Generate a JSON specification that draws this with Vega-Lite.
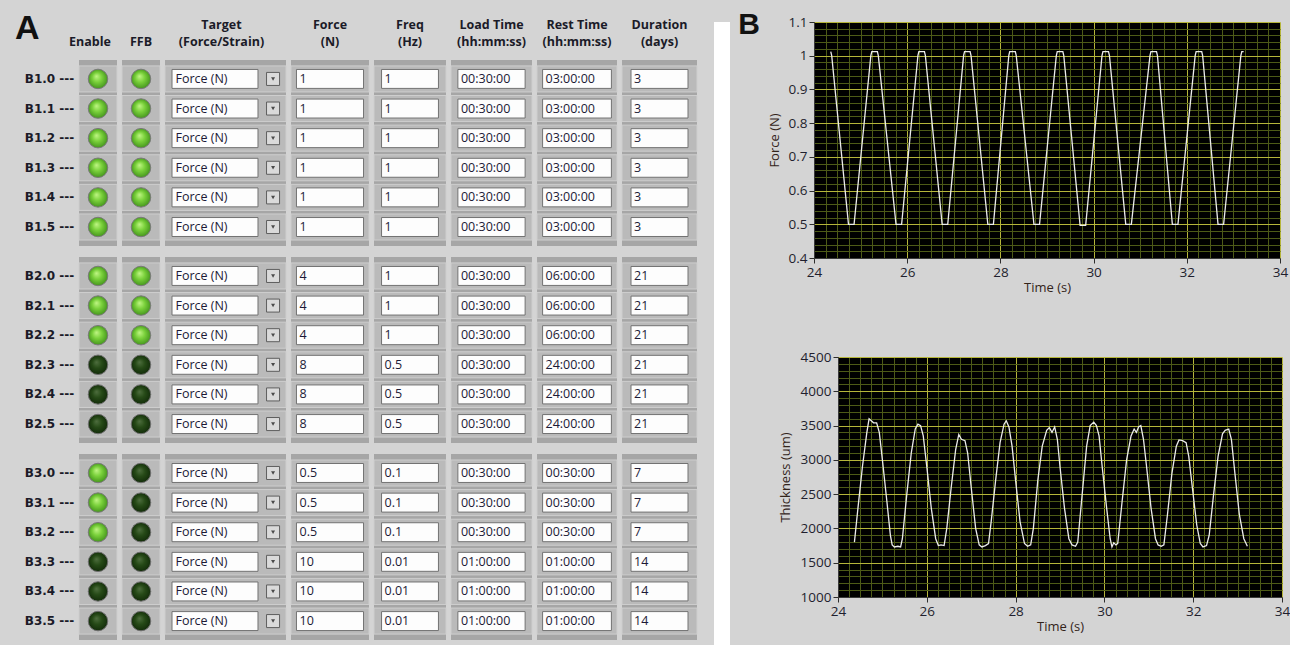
{
"$schema": "https://vega.github.io/schema/vega-lite/v6.json",
"background": "#d4d4d4",
"padding": {"left": 15, "top": 10, "right": 0, "bottom": 0},
"spacing": 16,
"config": {
  "view": {"stroke": null}
},
"datasets": {
  "rows": [
    {"ch":"B1.0","grp":"1","slot":0,"enable":"on","ffb":"on","target":"Force (N)","force":"1","freq":"1","load":"00:30:00","rest":"03:00:00","dur":"3"},
    {"ch":"B1.1","grp":"1","slot":1,"enable":"on","ffb":"on","target":"Force (N)","force":"1","freq":"1","load":"00:30:00","rest":"03:00:00","dur":"3"},
    {"ch":"B1.2","grp":"1","slot":2,"enable":"on","ffb":"on","target":"Force (N)","force":"1","freq":"1","load":"00:30:00","rest":"03:00:00","dur":"3"},
    {"ch":"B1.3","grp":"1","slot":3,"enable":"on","ffb":"on","target":"Force (N)","force":"1","freq":"1","load":"00:30:00","rest":"03:00:00","dur":"3"},
    {"ch":"B1.4","grp":"1","slot":4,"enable":"on","ffb":"on","target":"Force (N)","force":"1","freq":"1","load":"00:30:00","rest":"03:00:00","dur":"3"},
    {"ch":"B1.5","grp":"1","slot":5,"enable":"on","ffb":"on","target":"Force (N)","force":"1","freq":"1","load":"00:30:00","rest":"03:00:00","dur":"3"},
    {"ch":"B2.0","grp":"2","slot":0,"enable":"on","ffb":"on","target":"Force (N)","force":"4","freq":"1","load":"00:30:00","rest":"06:00:00","dur":"21"},
    {"ch":"B2.1","grp":"2","slot":1,"enable":"on","ffb":"on","target":"Force (N)","force":"4","freq":"1","load":"00:30:00","rest":"06:00:00","dur":"21"},
    {"ch":"B2.2","grp":"2","slot":2,"enable":"on","ffb":"on","target":"Force (N)","force":"4","freq":"1","load":"00:30:00","rest":"06:00:00","dur":"21"},
    {"ch":"B2.3","grp":"2","slot":3,"enable":"off","ffb":"off","target":"Force (N)","force":"8","freq":"0.5","load":"00:30:00","rest":"24:00:00","dur":"21"},
    {"ch":"B2.4","grp":"2","slot":4,"enable":"off","ffb":"off","target":"Force (N)","force":"8","freq":"0.5","load":"00:30:00","rest":"24:00:00","dur":"21"},
    {"ch":"B2.5","grp":"2","slot":5,"enable":"off","ffb":"off","target":"Force (N)","force":"8","freq":"0.5","load":"00:30:00","rest":"24:00:00","dur":"21"},
    {"ch":"B3.0","grp":"3","slot":0,"enable":"on","ffb":"off","target":"Force (N)","force":"0.5","freq":"0.1","load":"00:30:00","rest":"00:30:00","dur":"7"},
    {"ch":"B3.1","grp":"3","slot":1,"enable":"on","ffb":"off","target":"Force (N)","force":"0.5","freq":"0.1","load":"00:30:00","rest":"00:30:00","dur":"7"},
    {"ch":"B3.2","grp":"3","slot":2,"enable":"on","ffb":"off","target":"Force (N)","force":"0.5","freq":"0.1","load":"00:30:00","rest":"00:30:00","dur":"7"},
    {"ch":"B3.3","grp":"3","slot":3,"enable":"off","ffb":"off","target":"Force (N)","force":"10","freq":"0.01","load":"01:00:00","rest":"01:00:00","dur":"14"},
    {"ch":"B3.4","grp":"3","slot":4,"enable":"off","ffb":"off","target":"Force (N)","force":"10","freq":"0.01","load":"01:00:00","rest":"01:00:00","dur":"14"},
    {"ch":"B3.5","grp":"3","slot":5,"enable":"off","ffb":"off","target":"Force (N)","force":"10","freq":"0.01","load":"01:00:00","rest":"01:00:00","dur":"14"}
  ],
  "force": [
    {"t":24.36,"f":1.012},{"t":24.38,"f":1.0},{"t":24.74,"f":0.5},{"t":24.86,"f":0.5},
    {"t":25.22,"f":1.0},{"t":25.24,"f":1.012},{"t":25.36,"f":1.012},{"t":25.38,"f":1.0},
    {"t":25.76,"f":0.5},{"t":25.88,"f":0.5},
    {"t":26.23,"f":1.0},{"t":26.25,"f":1.012},{"t":26.37,"f":1.012},{"t":26.39,"f":1.0},
    {"t":26.75,"f":0.5},{"t":26.87,"f":0.5},
    {"t":27.21,"f":1.0},{"t":27.23,"f":1.012},{"t":27.35,"f":1.012},{"t":27.37,"f":1.0},
    {"t":27.73,"f":0.5},{"t":27.85,"f":0.5},
    {"t":28.18,"f":1.0},{"t":28.2,"f":1.012},{"t":28.32,"f":1.012},{"t":28.34,"f":1.0},
    {"t":28.72,"f":0.5},{"t":28.84,"f":0.5},
    {"t":29.2,"f":1.0},{"t":29.22,"f":1.012},{"t":29.34,"f":1.012},{"t":29.36,"f":1.0},
    {"t":29.71,"f":0.497},{"t":29.83,"f":0.497},
    {"t":30.18,"f":1.0},{"t":30.2,"f":1.012},{"t":30.32,"f":1.012},{"t":30.34,"f":1.0},
    {"t":30.69,"f":0.5},{"t":30.81,"f":0.5},
    {"t":31.21,"f":1.0},{"t":31.23,"f":1.012},{"t":31.35,"f":1.012},{"t":31.37,"f":1.0},
    {"t":31.69,"f":0.5},{"t":31.81,"f":0.5},
    {"t":32.18,"f":1.0},{"t":32.2,"f":1.012},{"t":32.32,"f":1.012},{"t":32.34,"f":1.0},
    {"t":32.67,"f":0.5},{"t":32.79,"f":0.5},
    {"t":33.16,"f":1.0},{"t":33.18,"f":1.012},{"t":33.22,"f":1.012}
  ],
  "thick": [
    {"t":24.37,"th":1800},{"t":24.45,"th":2300},{"t":24.55,"th":2900},{"t":24.65,"th":3400},{"t":24.7,"th":3600},{"t":24.75,"th":3570},{"t":24.8,"th":3540},{"t":24.87,"th":3540},{"t":24.93,"th":3400},{"t":25.0,"th":3000},{"t":25.1,"th":2400},{"t":25.18,"th":1900},{"t":25.22,"th":1760},{"t":25.27,"th":1730},{"t":25.35,"th":1740},{"t":25.41,"th":1730},
    {"t":25.45,"th":1850},{"t":25.55,"th":2500},{"t":25.65,"th":3100},{"t":25.74,"th":3450},{"t":25.8,"th":3520},{"t":25.86,"th":3500},{"t":25.92,"th":3350},{"t":26.0,"th":2900},{"t":26.1,"th":2300},{"t":26.2,"th":1850},{"t":26.26,"th":1750},{"t":26.32,"th":1760},{"t":26.39,"th":1750},
    {"t":26.45,"th":2000},{"t":26.55,"th":2600},{"t":26.65,"th":3150},{"t":26.72,"th":3370},{"t":26.78,"th":3300},{"t":26.86,"th":3280},{"t":26.92,"th":3100},{"t":27.0,"th":2600},{"t":27.1,"th":2000},{"t":27.18,"th":1760},{"t":27.24,"th":1730},{"t":27.32,"th":1750},{"t":27.39,"th":1780},
    {"t":27.45,"th":2100},{"t":27.55,"th":2700},{"t":27.65,"th":3250},{"t":27.74,"th":3520},{"t":27.79,"th":3570},{"t":27.85,"th":3480},{"t":27.92,"th":3200},{"t":28.0,"th":2700},{"t":28.1,"th":2100},{"t":28.2,"th":1780},{"t":28.27,"th":1740},{"t":28.34,"th":1760},
    {"t":28.4,"th":2000},{"t":28.5,"th":2700},{"t":28.6,"th":3200},{"t":28.7,"th":3430},{"t":28.76,"th":3470},{"t":28.82,"th":3400},{"t":28.88,"th":3480},{"t":28.94,"th":3300},{"t":29.0,"th":2900},{"t":29.1,"th":2300},{"t":29.2,"th":1850},{"t":29.27,"th":1760},{"t":29.35,"th":1740},
    {"t":29.4,"th":1800},{"t":29.5,"th":2500},{"t":29.6,"th":3200},{"t":29.68,"th":3500},{"t":29.76,"th":3550},{"t":29.82,"th":3500},{"t":29.88,"th":3350},{"t":29.95,"th":2900},{"t":30.05,"th":2300},{"t":30.13,"th":1850},{"t":30.17,"th":1730},{"t":30.21,"th":1790},{"t":30.26,"th":1760},{"t":30.3,"th":1780},
    {"t":30.4,"th":2400},{"t":30.5,"th":3000},{"t":30.6,"th":3350},{"t":30.67,"th":3450},{"t":30.72,"th":3400},{"t":30.77,"th":3480},{"t":30.82,"th":3500},{"t":30.88,"th":3300},{"t":30.95,"th":2900},{"t":31.05,"th":2300},{"t":31.15,"th":1850},{"t":31.21,"th":1760},{"t":31.28,"th":1740},{"t":31.34,"th":1760},
    {"t":31.42,"th":2200},{"t":31.52,"th":2800},{"t":31.62,"th":3200},{"t":31.68,"th":3290},{"t":31.76,"th":3280},{"t":31.84,"th":3250},{"t":31.9,"th":3050},{"t":31.98,"th":2600},{"t":32.08,"th":2050},{"t":32.16,"th":1780},{"t":32.22,"th":1730},{"t":32.3,"th":1750},
    {"t":32.36,"th":1900},{"t":32.46,"th":2500},{"t":32.56,"th":3050},{"t":32.66,"th":3380},{"t":32.72,"th":3430},{"t":32.8,"th":3450},{"t":32.86,"th":3300},{"t":32.94,"th":2800},{"t":33.04,"th":2200},{"t":33.14,"th":1850},{"t":33.22,"th":1740}
  ]
},
"hconcat": [
  {
    "spacing": 9,
    "vconcat": [
      {
        "spacing": 5,
        "bounds": "flush",
        "hconcat": [
          {"width": 59, "height": 27, "data": {"values": [{"h": "A"}]},
           "mark": {"type": "text", "align": "left", "baseline": "bottom", "font": "Liberation Sans", "fontSize": 34, "fontWeight": "bold", "color": "#111111", "dy": -3},
           "encoding": {"text": {"field": "h"},
                        "x": {"datum": 0, "type": "quantitative", "scale": {"domain": [0, 1]}, "axis": null},
                        "y": {"datum": 0, "type": "quantitative", "scale": {"domain": [0, 1]}, "axis": null}}},
          {"width": 38, "height": 27, "data": {"values": [{"h": "Enable"}]},
           "mark": {"type": "text", "baseline": "bottom", "font": "Open Sans", "fontSize": 12.5, "fontWeight": "bold", "color": "#1b1b28", "dx": -8},
           "encoding": {"text": {"field": "h"}, "y": {"datum": 0, "type": "quantitative", "scale": {"domain": [0, 1]}, "axis": null}}},
          {"width": 38, "height": 27, "data": {"values": [{"h": "FFB"}]},
           "mark": {"type": "text", "baseline": "bottom", "font": "Open Sans", "fontSize": 12.5, "fontWeight": "bold", "color": "#1b1b28"},
           "encoding": {"text": {"field": "h"}, "y": {"datum": 0, "type": "quantitative", "scale": {"domain": [0, 1]}, "axis": null}}},
          {"width": 121, "height": 27, "data": {"values": [{"h": ["Target", "(Force/Strain)"]}]},
           "mark": {"type": "text", "baseline": "top", "font": "Open Sans", "fontSize": 12.5, "fontWeight": "bold", "color": "#1b1b28", "lineHeight": 17, "dx": -4, "dy": -3},
           "encoding": {"text": {"field": "h"}, "y": {"datum": 1, "type": "quantitative", "scale": {"domain": [0, 1]}, "axis": null}}},
          {"width": 78, "height": 27, "data": {"values": [{"h": ["Force", "(N)"]}]},
           "mark": {"type": "text", "baseline": "top", "font": "Open Sans", "fontSize": 12.5, "fontWeight": "bold", "color": "#1b1b28", "lineHeight": 17, "dy": -3},
           "encoding": {"text": {"field": "h"}, "y": {"datum": 1, "type": "quantitative", "scale": {"domain": [0, 1]}, "axis": null}}},
          {"width": 72, "height": 27, "data": {"values": [{"h": ["Freq", "(Hz)"]}]},
           "mark": {"type": "text", "baseline": "top", "font": "Open Sans", "fontSize": 12.5, "fontWeight": "bold", "color": "#1b1b28", "lineHeight": 17, "dy": -3},
           "encoding": {"text": {"field": "h"}, "y": {"datum": 1, "type": "quantitative", "scale": {"domain": [0, 1]}, "axis": null}}},
          {"width": 81, "height": 27, "data": {"values": [{"h": ["Load Time", "(hh:mm:ss)"]}]},
           "mark": {"type": "text", "baseline": "top", "font": "Open Sans", "fontSize": 12.5, "fontWeight": "bold", "color": "#1b1b28", "lineHeight": 17, "dy": -3},
           "encoding": {"text": {"field": "h"}, "y": {"datum": 1, "type": "quantitative", "scale": {"domain": [0, 1]}, "axis": null}}},
          {"width": 80, "height": 27, "data": {"values": [{"h": ["Rest Time", "(hh:mm:ss)"]}]},
           "mark": {"type": "text", "baseline": "top", "font": "Open Sans", "fontSize": 12.5, "fontWeight": "bold", "color": "#1b1b28", "lineHeight": 17, "dy": -3},
           "encoding": {"text": {"field": "h"}, "y": {"datum": 1, "type": "quantitative", "scale": {"domain": [0, 1]}, "axis": null}}},
          {"width": 75, "height": 27, "data": {"values": [{"h": ["Duration", "(days)"]}]},
           "mark": {"type": "text", "baseline": "top", "font": "Open Sans", "fontSize": 12.5, "fontWeight": "bold", "color": "#1b1b28", "lineHeight": 17, "dy": -3},
           "encoding": {"text": {"field": "h"}, "y": {"datum": 1, "type": "quantitative", "scale": {"domain": [0, 1]}, "axis": null}}}
        ]
      },
      {
        "spacing": 5,
        "bounds": "flush",
        "resolve": {"scale": {"x": "independent", "yOffset": "independent"}},
        "hconcat": [
          {
            "width": 59, "height": 584,
            "data": {"name": "rows"},
            "transform": [{"calculate": "datum.ch + ' ---'", "as": "label"}],
            "mark": {"type": "text", "font": "DejaVu Sans", "fontSize": 12, "fontWeight": "bold", "color": "#1b1b28", "baseline": "middle", "dx": 5},
            "encoding": {
              "y": {"field":"grp","type":"nominal","axis":null,"scale":{"domain":["1","2","3"],"paddingInner":0.056,"paddingOuter":0.01}},
              "yOffset": {"field":"slot","type":"nominal","scale":{"type":"band","domain":[0,1,2,3,4,5],"paddingInner":0,"paddingOuter":0.14}},
              "text": {"field": "label"}
            }
          },
          {
            "width": 38, "height": 584,
            "data": {"name": "rows"},
            "resolve": {"scale": {"yOffset": "independent"}},
            "encoding": {"y": {"field":"grp","type":"nominal","axis":null,"scale":{"domain":["1","2","3"],"paddingInner":0.056,"paddingOuter":0.01}}},
            "layer": [
              {"mark": {"type": "rect", "fill": "#a6a6a6"}},
              {"mark": {"type": "rect", "fill": "#bababa", "stroke": "#cecece", "strokeWidth": 1},
               "encoding": {"yOffset": {"field":"slot","type":"nominal","scale":{"type":"band","domain":[0,1,2,3,4,5],"paddingInner":0.12,"paddingOuter":0.2}}}},
              {"transform": [{"filter": "datum.enable === 'on'"}],
               "mark": {"type": "point", "shape": "circle", "filled": true, "opacity": 1, "size": 380, "stroke": "#7a7a7a", "strokeWidth": 1,
                        "fill": {"gradient": "radial", "x1": 0.42, "y1": 0.36, "r1": 0, "x2": 0.5, "y2": 0.5, "r2": 0.55, "stops": [{"offset": 0, "color": "#c0f585"}, {"offset": 0.45, "color": "#79d03a"}, {"offset": 1, "color": "#3e8d1a"}]}},
               "encoding": {"yOffset": {"field":"slot","type":"nominal","scale":{"type":"band","domain":[0,1,2,3,4,5],"paddingInner":0,"paddingOuter":0.14}}}},
              {"transform": [{"filter": "datum.enable === 'off'"}],
               "mark": {"type": "point", "shape": "circle", "filled": true, "opacity": 1, "size": 380, "stroke": "#6e6e6e", "strokeWidth": 1,
                        "fill": {"gradient": "radial", "x1": 0.42, "y1": 0.36, "r1": 0, "x2": 0.5, "y2": 0.5, "r2": 0.55, "stops": [{"offset": 0, "color": "#4f6e3f"}, {"offset": 0.45, "color": "#264a17"}, {"offset": 1, "color": "#102808"}]}},
               "encoding": {"yOffset": {"field":"slot","type":"nominal","scale":{"type":"band","domain":[0,1,2,3,4,5],"paddingInner":0,"paddingOuter":0.14}}}}
            ]
          },
          {
            "width": 38, "height": 584,
            "data": {"name": "rows"},
            "resolve": {"scale": {"yOffset": "independent"}},
            "encoding": {"y": {"field":"grp","type":"nominal","axis":null,"scale":{"domain":["1","2","3"],"paddingInner":0.056,"paddingOuter":0.01}}},
            "layer": [
              {"mark": {"type": "rect", "fill": "#a6a6a6"}},
              {"mark": {"type": "rect", "fill": "#bababa", "stroke": "#cecece", "strokeWidth": 1},
               "encoding": {"yOffset": {"field":"slot","type":"nominal","scale":{"type":"band","domain":[0,1,2,3,4,5],"paddingInner":0.12,"paddingOuter":0.2}}}},
              {"transform": [{"filter": "datum.ffb === 'on'"}],
               "mark": {"type": "point", "shape": "circle", "filled": true, "opacity": 1, "size": 380, "stroke": "#7a7a7a", "strokeWidth": 1,
                        "fill": {"gradient": "radial", "x1": 0.42, "y1": 0.36, "r1": 0, "x2": 0.5, "y2": 0.5, "r2": 0.55, "stops": [{"offset": 0, "color": "#c0f585"}, {"offset": 0.45, "color": "#79d03a"}, {"offset": 1, "color": "#3e8d1a"}]}},
               "encoding": {"yOffset": {"field":"slot","type":"nominal","scale":{"type":"band","domain":[0,1,2,3,4,5],"paddingInner":0,"paddingOuter":0.14}}}},
              {"transform": [{"filter": "datum.ffb === 'off'"}],
               "mark": {"type": "point", "shape": "circle", "filled": true, "opacity": 1, "size": 380, "stroke": "#6e6e6e", "strokeWidth": 1,
                        "fill": {"gradient": "radial", "x1": 0.42, "y1": 0.36, "r1": 0, "x2": 0.5, "y2": 0.5, "r2": 0.55, "stops": [{"offset": 0, "color": "#4f6e3f"}, {"offset": 0.45, "color": "#264a17"}, {"offset": 1, "color": "#102808"}]}},
               "encoding": {"yOffset": {"field":"slot","type":"nominal","scale":{"type":"band","domain":[0,1,2,3,4,5],"paddingInner":0,"paddingOuter":0.14}}}}
            ]
          },
          {
            "width": 121, "height": 584,
            "data": {"name": "rows"},
            "resolve": {"scale": {"x": "independent", "yOffset": "independent"}},
            "encoding": {"y": {"field":"grp","type":"nominal","axis":null,"scale":{"domain":["1","2","3"],"paddingInner":0.056,"paddingOuter":0.01}}},
            "layer": [
              {"mark": {"type": "rect", "fill": "#a6a6a6"}},
              {"mark": {"type": "rect", "fill": "#bababa", "stroke": "#cecece", "strokeWidth": 1},
               "encoding": {"yOffset": {"field":"slot","type":"nominal","scale":{"type":"band","domain":[0,1,2,3,4,5],"paddingInner":0.12,"paddingOuter":0.2}}}},
              {"mark": {"type": "rect", "fill": "#fdfdfd", "stroke": "#727272", "strokeWidth": 1},
               "encoding": {"x": {"datum": "box", "type": "nominal", "axis": null, "scale": {"type": "band", "domain": ["box"], "paddingInner": 0, "paddingOuter": 0.2035, "align": 0.2}},
                            "yOffset": {"field":"slot","type":"nominal","scale":{"type":"band","domain":[0,1,2,3,4,5],"paddingInner":0.36,"paddingOuter":0.32}}}},
              {"mark": {"type": "text", "align": "left", "baseline": "middle", "font": "Open Sans", "fontSize": 12.5, "color": "#1c1a36"},
               "encoding": {"x": {"datum": "box", "type": "nominal", "bandPosition": 0.04, "axis": null, "scale": {"type": "band", "domain": ["box"], "paddingInner": 0, "paddingOuter": 0.2035, "align": 0.2}},
                            "yOffset": {"field":"slot","type":"nominal","scale":{"type":"band","domain":[0,1,2,3,4,5],"paddingInner":0,"paddingOuter":0.14}},
                            "text": {"field": "target"}}},
              {"mark": {"type": "point", "shape": "square", "filled": true, "opacity": 1, "size": 170, "fill": "#dadada", "stroke": "#5e5e5e", "strokeWidth": 1},
               "encoding": {"x": {"datum": "btn", "type": "nominal", "axis": null, "scale": {"type": "point", "domain": ["btn"], "align": 0.893}},
                            "yOffset": {"field":"slot","type":"nominal","scale":{"type":"band","domain":[0,1,2,3,4,5],"paddingInner":0,"paddingOuter":0.14}}}},
              {"mark": {"type": "point", "shape": "triangle-down", "filled": true, "opacity": 1, "size": 16, "fill": "#4a4a4a"},
               "encoding": {"x": {"datum": "btn", "type": "nominal", "axis": null, "scale": {"type": "point", "domain": ["btn"], "align": 0.893}},
                            "yOffset": {"field":"slot","type":"nominal","scale":{"type":"band","domain":[0,1,2,3,4,5],"paddingInner":0,"paddingOuter":0.14}}}}
            ]
          },
          {
            "width": 78, "height": 584,
            "data": {"name": "rows"},
            "resolve": {"scale": {"yOffset": "independent"}},
            "encoding": {"y": {"field":"grp","type":"nominal","axis":null,"scale":{"domain":["1","2","3"],"paddingInner":0.056,"paddingOuter":0.01}}},
            "layer": [
              {"mark": {"type": "rect", "fill": "#a6a6a6"}},
              {"mark": {"type": "rect", "fill": "#bababa", "stroke": "#cecece", "strokeWidth": 1},
               "encoding": {"yOffset": {"field":"slot","type":"nominal","scale":{"type":"band","domain":[0,1,2,3,4,5],"paddingInner":0.12,"paddingOuter":0.2}}}},
              {"mark": {"type": "rect", "fill": "#fdfdfd", "stroke": "#727272", "strokeWidth": 1, "width": {"band": 0.86}},
               "encoding": {"x": {"datum": "box", "type": "nominal", "axis": null, "scale": {"domain": ["box"], "paddingInner": 0, "paddingOuter": 0}},
                            "yOffset": {"field":"slot","type":"nominal","scale":{"type":"band","domain":[0,1,2,3,4,5],"paddingInner":0.36,"paddingOuter":0.32}}}},
              {"mark": {"type": "text", "align": "left", "baseline": "middle", "font": "Open Sans", "fontSize": 12.5, "color": "#1c1a36"},
               "encoding": {"x": {"datum": "box", "type": "nominal", "bandPosition": 0.109, "axis": null, "scale": {"domain": ["box"], "paddingInner": 0, "paddingOuter": 0}},
                            "yOffset": {"field":"slot","type":"nominal","scale":{"type":"band","domain":[0,1,2,3,4,5],"paddingInner":0,"paddingOuter":0.14}},
                            "text": {"field": "force"}}}
            ]
          },
          {
            "width": 72, "height": 584,
            "data": {"name": "rows"},
            "resolve": {"scale": {"yOffset": "independent"}},
            "encoding": {"y": {"field":"grp","type":"nominal","axis":null,"scale":{"domain":["1","2","3"],"paddingInner":0.056,"paddingOuter":0.01}}},
            "layer": [
              {"mark": {"type": "rect", "fill": "#a6a6a6"}},
              {"mark": {"type": "rect", "fill": "#bababa", "stroke": "#cecece", "strokeWidth": 1},
               "encoding": {"yOffset": {"field":"slot","type":"nominal","scale":{"type":"band","domain":[0,1,2,3,4,5],"paddingInner":0.12,"paddingOuter":0.2}}}},
              {"mark": {"type": "rect", "fill": "#fdfdfd", "stroke": "#727272", "strokeWidth": 1, "width": {"band": 0.79}},
               "encoding": {"x": {"datum": "box", "type": "nominal", "axis": null, "scale": {"domain": ["box"], "paddingInner": 0, "paddingOuter": 0}},
                            "yOffset": {"field":"slot","type":"nominal","scale":{"type":"band","domain":[0,1,2,3,4,5],"paddingInner":0.36,"paddingOuter":0.32}}}},
              {"mark": {"type": "text", "align": "left", "baseline": "middle", "font": "Open Sans", "fontSize": 12.5, "color": "#1c1a36"},
               "encoding": {"x": {"datum": "box", "type": "nominal", "bandPosition": 0.146, "axis": null, "scale": {"domain": ["box"], "paddingInner": 0, "paddingOuter": 0}},
                            "yOffset": {"field":"slot","type":"nominal","scale":{"type":"band","domain":[0,1,2,3,4,5],"paddingInner":0,"paddingOuter":0.14}},
                            "text": {"field": "freq"}}}
            ]
          },
          {
            "width": 81, "height": 584,
            "data": {"name": "rows"},
            "resolve": {"scale": {"yOffset": "independent"}},
            "encoding": {"y": {"field":"grp","type":"nominal","axis":null,"scale":{"domain":["1","2","3"],"paddingInner":0.056,"paddingOuter":0.01}}},
            "layer": [
              {"mark": {"type": "rect", "fill": "#a6a6a6"}},
              {"mark": {"type": "rect", "fill": "#bababa", "stroke": "#cecece", "strokeWidth": 1},
               "encoding": {"yOffset": {"field":"slot","type":"nominal","scale":{"type":"band","domain":[0,1,2,3,4,5],"paddingInner":0.12,"paddingOuter":0.2}}}},
              {"mark": {"type": "rect", "fill": "#fdfdfd", "stroke": "#727272", "strokeWidth": 1, "width": {"band": 0.83}},
               "encoding": {"x": {"datum": "box", "type": "nominal", "axis": null, "scale": {"domain": ["box"], "paddingInner": 0, "paddingOuter": 0}},
                            "yOffset": {"field":"slot","type":"nominal","scale":{"type":"band","domain":[0,1,2,3,4,5],"paddingInner":0.36,"paddingOuter":0.32}}}},
              {"mark": {"type": "text", "align": "left", "baseline": "middle", "font": "Open Sans", "fontSize": 12.5, "color": "#1c1a36"},
               "encoding": {"x": {"datum": "box", "type": "nominal", "bandPosition": 0.123, "axis": null, "scale": {"domain": ["box"], "paddingInner": 0, "paddingOuter": 0}},
                            "yOffset": {"field":"slot","type":"nominal","scale":{"type":"band","domain":[0,1,2,3,4,5],"paddingInner":0,"paddingOuter":0.14}},
                            "text": {"field": "load"}}}
            ]
          },
          {
            "width": 80, "height": 584,
            "data": {"name": "rows"},
            "resolve": {"scale": {"yOffset": "independent"}},
            "encoding": {"y": {"field":"grp","type":"nominal","axis":null,"scale":{"domain":["1","2","3"],"paddingInner":0.056,"paddingOuter":0.01}}},
            "layer": [
              {"mark": {"type": "rect", "fill": "#a6a6a6"}},
              {"mark": {"type": "rect", "fill": "#bababa", "stroke": "#cecece", "strokeWidth": 1},
               "encoding": {"yOffset": {"field":"slot","type":"nominal","scale":{"type":"band","domain":[0,1,2,3,4,5],"paddingInner":0.12,"paddingOuter":0.2}}}},
              {"mark": {"type": "rect", "fill": "#fdfdfd", "stroke": "#727272", "strokeWidth": 1, "width": {"band": 0.86}},
               "encoding": {"x": {"datum": "box", "type": "nominal", "axis": null, "scale": {"domain": ["box"], "paddingInner": 0, "paddingOuter": 0}},
                            "yOffset": {"field":"slot","type":"nominal","scale":{"type":"band","domain":[0,1,2,3,4,5],"paddingInner":0.36,"paddingOuter":0.32}}}},
              {"mark": {"type": "text", "align": "left", "baseline": "middle", "font": "Open Sans", "fontSize": 12.5, "color": "#1c1a36"},
               "encoding": {"x": {"datum": "box", "type": "nominal", "bandPosition": 0.106, "axis": null, "scale": {"domain": ["box"], "paddingInner": 0, "paddingOuter": 0}},
                            "yOffset": {"field":"slot","type":"nominal","scale":{"type":"band","domain":[0,1,2,3,4,5],"paddingInner":0,"paddingOuter":0.14}},
                            "text": {"field": "rest"}}}
            ]
          },
          {
            "width": 75, "height": 584,
            "data": {"name": "rows"},
            "resolve": {"scale": {"yOffset": "independent"}},
            "encoding": {"y": {"field":"grp","type":"nominal","axis":null,"scale":{"domain":["1","2","3"],"paddingInner":0.056,"paddingOuter":0.01}}},
            "layer": [
              {"mark": {"type": "rect", "fill": "#a6a6a6"}},
              {"mark": {"type": "rect", "fill": "#bababa", "stroke": "#cecece", "strokeWidth": 1},
               "encoding": {"yOffset": {"field":"slot","type":"nominal","scale":{"type":"band","domain":[0,1,2,3,4,5],"paddingInner":0.12,"paddingOuter":0.2}}}},
              {"mark": {"type": "rect", "fill": "#fdfdfd", "stroke": "#727272", "strokeWidth": 1, "width": {"band": 0.76}},
               "encoding": {"x": {"datum": "box", "type": "nominal", "axis": null, "scale": {"domain": ["box"], "paddingInner": 0, "paddingOuter": 0}},
                            "yOffset": {"field":"slot","type":"nominal","scale":{"type":"band","domain":[0,1,2,3,4,5],"paddingInner":0.36,"paddingOuter":0.32}}}},
              {"mark": {"type": "text", "align": "left", "baseline": "middle", "font": "Open Sans", "fontSize": 12.5, "color": "#1c1a36"},
               "encoding": {"x": {"datum": "box", "type": "nominal", "bandPosition": 0.16, "axis": null, "scale": {"domain": ["box"], "paddingInner": 0, "paddingOuter": 0}},
                            "yOffset": {"field":"slot","type":"nominal","scale":{"type":"band","domain":[0,1,2,3,4,5],"paddingInner":0,"paddingOuter":0.14}},
                            "text": {"field": "dur"}}}
            ]
          }
        ]
      }
    ]
  },
  {
    "spacing": 0,
    "hconcat": [
      {
        "width": 16, "height": 640,
        "view": {"fill": "#ffffff", "stroke": null},
        "data": {"values": []},
        "mark": {"type": "point", "opacity": 0}
      },
      {
        "spacing": 55,
        "vconcat": [
          {
            "spacing": 0,
            "hconcat": [
              {
                "width": 38, "height": 2,
                "data": {"values": [{"panel": "B"}]},
                "mark": {"type": "text", "font": "Liberation Sans", "fontSize": 30, "fontWeight": "bold", "color": "#111111", "baseline": "middle", "dy": 2},
                "encoding": {"text": {"field": "panel"}}
              },
              {
                "width": 466, "height": 236,
                "view": {"fill": "#000000", "stroke": null},
                "data": {"name": "force"},
                "layer": [
                  {
                    "mark": {"type": "line", "opacity": 0},
                    "encoding": {
                      "x": {"field": "t", "type": "quantitative", "scale": {"domain": [24, 34], "nice": false, "zero": false},
                            "axis": {"orient": "top", "values": [24.25,24.5,24.75,25,25.25,25.5,25.75,26.25,26.5,26.75,27,27.25,27.5,27.75,28.25,28.5,28.75,29,29.25,29.5,29.75,30.25,30.5,30.75,31,31.25,31.5,31.75,32.25,32.5,32.75,33,33.25,33.5,33.75],
                                     "grid": true, "gridColor": "#4d5a17", "gridOpacity": 1, "gridWidth": 1, "labels": false, "ticks": false, "domain": false, "title": null, "minExtent": 0}},
                      "y": {"field": "f", "type": "quantitative", "scale": {"domain": [0.4, 1.1], "nice": false, "zero": false},
                            "axis": {"orient": "right", "values": [0.42,0.44,0.46,0.48,0.52,0.54,0.56,0.58,0.62,0.64,0.66,0.68,0.72,0.74,0.76,0.78,0.82,0.84,0.86,0.88,0.92,0.94,0.96,0.98,1.02,1.04,1.06,1.08],
                                     "grid": true, "gridColor": "#4d5a17", "gridOpacity": 1, "gridWidth": 1, "labels": false, "ticks": false, "domain": false, "title": null, "minExtent": 0}}
                    }
                  },
                  {
                    "mark": {"type": "line", "color": "#ececec", "strokeWidth": 1.3},
                    "encoding": {
                      "x": {"field": "t", "type": "quantitative", "scale": {"domain": [24, 34], "nice": false, "zero": false},
                            "axis": {"orient": "bottom", "values": [24, 26, 28, 30, 32, 34], "grid": true, "gridColor": "#b5b53a", "gridOpacity": 1, "gridWidth": 1,
                                     "tickSize": 5, "tickColor": "#2e2e2e", "domain": true, "domainColor": "#3a3a3a", "labelFont": "Open Sans", "labelFontSize": 13.5, "labelColor": "#1f1f2e",
                                     "labelPadding": 2, "labelFlush": false, "title": "Time (s)", "titleFont": "Open Sans", "titleFontSize": 13, "titleFontWeight": "normal", "titleColor": "#33241a", "titlePadding": 3, "minExtent": 0}},
                      "y": {"field": "f", "type": "quantitative", "scale": {"domain": [0.4, 1.1], "nice": false, "zero": false},
                            "axis": {"orient": "left", "values": [0.4, 0.5, 0.6, 0.7, 0.8, 0.9, 1, 1.1], "format": "~g", "grid": true, "gridColor": "#b5b53a", "gridOpacity": 1, "gridWidth": 1,
                                     "tickSize": 5, "tickColor": "#2e2e2e", "domain": true, "domainColor": "#3a3a3a", "labelFont": "Open Sans", "labelFontSize": 13.5, "labelColor": "#1f1f2e",
                                     "labelPadding": 2, "labelFlush": false, "labelOverlap": false, "title": "Force (N)", "titleFont": "Open Sans", "titleFontSize": 13, "titleFontWeight": "normal", "titleColor": "#33241a", "titlePadding": 7, "minExtent": 0}}
                    }
                  }
                ]
              }
            ]
          },
          {
            "spacing": 0,
            "hconcat": [
              {
                "width": 49, "height": 10,
                "data": {"values": []},
                "mark": {"type": "point", "opacity": 0}
              },
              {
                "width": 444, "height": 240,
                "view": {"fill": "#000000", "stroke": null},
                "data": {"name": "thick"},
                "layer": [
                  {
                    "mark": {"type": "line", "opacity": 0},
                    "encoding": {
                      "x": {"field": "t", "type": "quantitative", "scale": {"domain": [24, 34], "nice": false, "zero": false},
                            "axis": {"orient": "top", "values": [24.25,24.5,24.75,25,25.25,25.5,25.75,26.25,26.5,26.75,27,27.25,27.5,27.75,28.25,28.5,28.75,29,29.25,29.5,29.75,30.25,30.5,30.75,31,31.25,31.5,31.75,32.25,32.5,32.75,33,33.25,33.5,33.75],
                                     "grid": true, "gridColor": "#4d5a17", "gridOpacity": 1, "gridWidth": 1, "labels": false, "ticks": false, "domain": false, "title": null, "minExtent": 0}},
                      "y": {"field": "th", "type": "quantitative", "scale": {"domain": [1000, 4500], "nice": false, "zero": false},
                            "axis": {"orient": "right", "values": [1100,1200,1300,1400,1600,1700,1800,1900,2100,2200,2300,2400,2600,2700,2800,2900,3100,3200,3300,3400,3600,3700,3800,3900,4100,4200,4300,4400],
                                     "grid": true, "gridColor": "#4d5a17", "gridOpacity": 1, "gridWidth": 1, "labels": false, "ticks": false, "domain": false, "title": null, "minExtent": 0}}
                    }
                  },
                  {
                    "mark": {"type": "line", "color": "#ececec", "strokeWidth": 1.3},
                    "encoding": {
                      "x": {"field": "t", "type": "quantitative", "scale": {"domain": [24, 34], "nice": false, "zero": false},
                            "axis": {"orient": "bottom", "values": [24, 26, 28, 30, 32, 34], "grid": true, "gridColor": "#b5b53a", "gridOpacity": 1, "gridWidth": 1,
                                     "tickSize": 5, "tickColor": "#2e2e2e", "domain": true, "domainColor": "#3a3a3a", "labelFont": "Open Sans", "labelFontSize": 13.5, "labelColor": "#1f1f2e",
                                     "labelPadding": 2, "labelFlush": false, "title": "Time (s)", "titleFont": "Open Sans", "titleFontSize": 13, "titleFontWeight": "normal", "titleColor": "#33241a", "titlePadding": 3, "minExtent": 0}},
                      "y": {"field": "th", "type": "quantitative", "scale": {"domain": [1000, 4500], "nice": false, "zero": false},
                            "axis": {"orient": "left", "values": [1000, 1500, 2000, 2500, 3000, 3500, 4000, 4500], "format": "d", "grid": true, "gridColor": "#b5b53a", "gridOpacity": 1, "gridWidth": 1,
                                     "tickSize": 5, "tickColor": "#2e2e2e", "domain": true, "domainColor": "#3a3a3a", "labelFont": "Open Sans", "labelFontSize": 13.5, "labelColor": "#1f1f2e",
                                     "labelPadding": 2, "labelFlush": false, "labelOverlap": false, "title": "Thickness (um)", "titleFont": "Open Sans", "titleFontSize": 13, "titleFontWeight": "normal", "titleColor": "#33241a", "titlePadding": 8, "minExtent": 0}}
                    }
                  }
                ]
              }
            ]
          }
        ]
      }
    ]
  }
]
}
